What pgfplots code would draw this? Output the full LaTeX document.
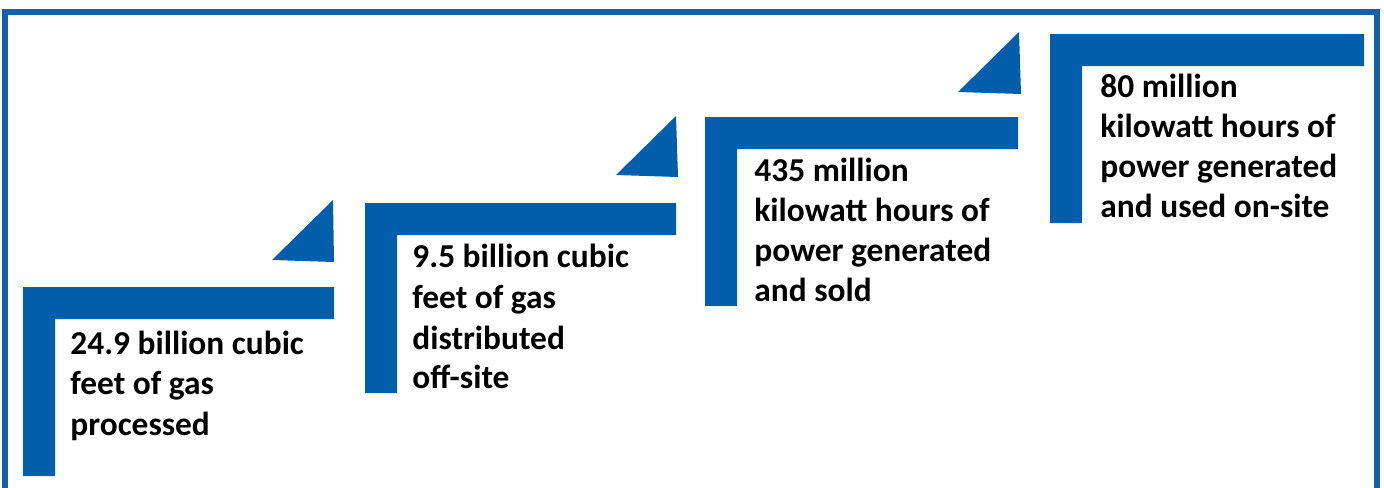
\documentclass[border=0pt]{standalone}
\usepackage{pgfplots}
\pgfplotsset{compat=1.18}
\usepackage{fontspec}
\setmainfont{Carlito}
\definecolor{myblue}{RGB}{0,94,170}
\definecolor{frameblue}{RGB}{22,96,170}
\begin{document}
\begin{tikzpicture}
\path[use as bounding box] (0,0) rectangle (692pt,243.5pt);
\begin{axis}[scale only axis, width=692pt, height=243.5pt,
  xmin=0, xmax=1384, ymin=0, ymax=487, y dir=reverse, hide axis, clip=true,
  anchor=south west, at={(0,0)}]
% frame
\addplot[draw=frameblue, line width=2.6pt, no markers] coordinates {(5,500) (5,12) (1377,12) (1377,500)};
% step 1
\addplot[fill=myblue, draw=none, no markers] coordinates {(23,287) (334,287) (334,319) (55,319) (55,476) (23,476)};
\addplot[fill=myblue, draw=none, no markers] coordinates {(272,260) (333,200) (334,262)};
% step 2
\addplot[fill=myblue, draw=none, no markers] coordinates {(365,203) (676,203) (676,235) (397,235) (397,393) (365,393)};
\addplot[fill=myblue, draw=none, no markers] coordinates {(616,175) (676,116) (678,177)};
% step 3
\addplot[fill=myblue, draw=none, no markers] coordinates {(705,117) (1018,117) (1018,149) (737,149) (737,306) (705,306)};
\addplot[fill=myblue, draw=none, no markers] coordinates {(958,92) (1019,32) (1021,94)};
% step 4
\addplot[fill=myblue, draw=none, no markers] coordinates {(1050,34) (1364,34) (1364,66) (1082,66) (1082,223) (1050,223)};
\end{axis}
\begin{scope}[x=0.5pt, y=-0.5pt, shift={(0,243.5pt)}]
\tikzset{lbl/.style={anchor=base west, inner sep=0pt, font=\fontsize{16.7}{20}\selectfont\bfseries}}
\node[lbl] at (70,354) {24.9 billion cubic};
\node[lbl] at (70,394.5) {feet of gas};
\node[lbl] at (70,435) {processed};
\node[lbl] at (412,268) {9.5 billion cubic};
\node[lbl] at (412,309) {feet of gas};
\node[lbl] at (412,349) {distributed};
\node[lbl] at (412,389) {off-site};
\node[lbl] at (754,182) {435 million};
\node[lbl] at (754,222) {kilowatt hours of};
\node[lbl] at (754,261.5) {power generated};
\node[lbl] at (754,302) {and sold};
\node[lbl] at (1100,98) {80 million};
\node[lbl] at (1100,138) {kilowatt hours of};
\node[lbl] at (1100,178) {power generated};
\node[lbl] at (1100,218) {and used on-site};
\end{scope}
\end{tikzpicture}
\end{document}
